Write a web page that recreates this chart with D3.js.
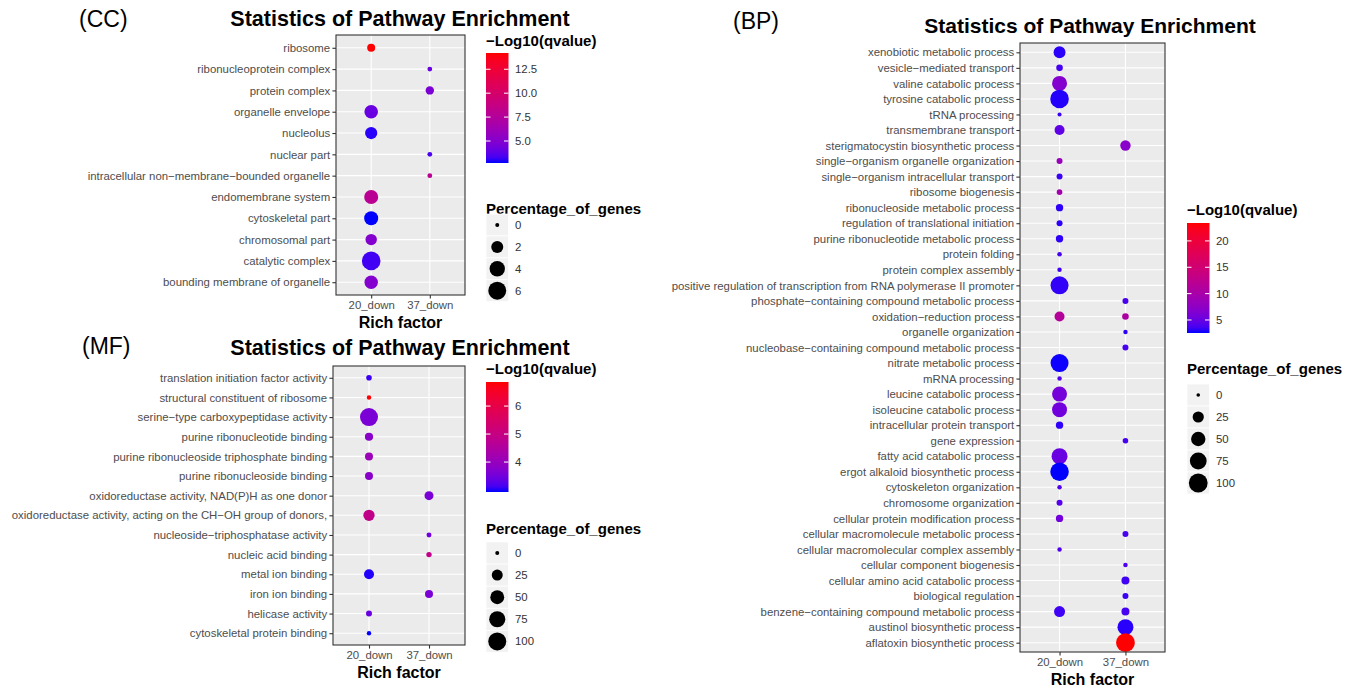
<!DOCTYPE html>
<html>
<head>
<meta charset="utf-8">
<script src="https://cdn.jsdelivr.net/npm/d3@7"></script>
<style>
body{margin:0;background:#fff}
text{font-family:"Liberation Sans",Arial,sans-serif}
</style>
</head>
<body>
<script>
var groups = ["20_down","37_down"];

// (CC) cellular component
var ccTerms = ["ribosome","ribonucleoprotein complex","protein complex","organelle envelope","nucleolus","nuclear part",
  "intracellular non\u2212membrane\u2212bounded organelle","endomembrane system","cytoskeletal part","chromosomal part",
  "catalytic complex","bounding membrane of organelle"];
var ccGroup = ["20_down","37_down","37_down","20_down","20_down","37_down","37_down","20_down","20_down","20_down","20_down","20_down"];
var ccPercent = [0.5,0.02,0.6,2.85,2.1,0.02,0.02,3.1,3.1,1.7,6.6,2.75];
var ccLogQ = [14.2,4.1,4.7,4.1,2.9,3.4,7.9,7.9,2.7,5.0,3.2,5.0];
var ccColorTicks = [5,7.5,10,12.5];
var ccColorLabels = ["5.0","7.5","10.0","12.5"];
var ccSizeTicks = [0,2,4,6];

// (MF) molecular function
var mfTerms = ["translation initiation factor activity","structural constituent of ribosome","serine\u2212type carboxypeptidase activity",
  "purine ribonucleotide binding","purine ribonucleoside triphosphate binding","purine ribonucleoside binding",
  "oxidoreductase activity, NAD(P)H as one donor","oxidoreductase activity, acting on the CH\u2212OH group of donors,",
  "nucleoside\u2212triphosphatase activity","nucleic acid binding","metal ion binding","iron ion binding","helicase activity",
  "cytoskeletal protein binding"];
var mfGroup = ["20_down","20_down","20_down","20_down","20_down","20_down","37_down","20_down","37_down","37_down","20_down","37_down","20_down","20_down"];
var mfPercent = [1.3,0.1,100,9,8.2,8.2,12.8,27,0.5,1.0,18.4,8.2,2,0.1];
var mfLogQ = [3.08,6.86,3.6,3.8,4.1,3.8,3.6,4.9,3.5,4.9,2.98,3.6,3.4,2.93];
var mfColorTicks = [4,5,6];
var mfColorLabels = ["4","5","6"];
var mfSizeTicks = [0,25,50,75,100];

// (BP) biological process
var bpTerms = ["xenobiotic metabolic process","vesicle\u2212mediated transport","valine catabolic process","tyrosine catabolic process",
  "tRNA processing","transmembrane transport","sterigmatocystin biosynthetic process","single\u2212organism organelle organization",
  "single\u2212organism intracellular transport","ribosome biogenesis","ribonucleoside metabolic process",
  "regulation of translational initiation","purine ribonucleotide metabolic process","protein folding","protein complex assembly",
  "positive regulation of transcription from RNA polymerase II promoter","phosphate\u2212containing compound metabolic process",
  "oxidation\u2212reduction process","organelle organization","nucleobase\u2212containing compound metabolic process",
  "nitrate metabolic process","mRNA processing","leucine catabolic process","isoleucine catabolic process",
  "intracellular protein transport","gene expression","fatty acid catabolic process","ergot alkaloid biosynthetic process",
  "cytoskeleton organization","chromosome organization","cellular protein modification process",
  "cellular macromolecule metabolic process","cellular macromolecular complex assembly","cellular component biogenesis",
  "cellular amino acid catabolic process","biological regulation","benzene\u2212containing compound metabolic process",
  "austinol biosynthetic process","aflatoxin biosynthetic process"];
// one entry per point (two terms have a point in both groups)
var bpPointTerm = bpTerms.slice(0,18).concat(["oxidation\u2212reduction process"]).concat(bpTerms.slice(18,37))
  .concat(["benzene\u2212containing compound metabolic process"]).concat(bpTerms.slice(37));
var bpGroup = ["20_down","20_down","20_down","20_down","20_down","20_down","37_down","20_down","20_down","20_down",
  "20_down","20_down","20_down","20_down","20_down","20_down","37_down","20_down","37_down","37_down",
  "37_down","20_down","20_down","20_down","20_down","20_down","37_down","20_down","20_down","20_down",
  "20_down","20_down","37_down","20_down","37_down","37_down","37_down","20_down","37_down","37_down","37_down"];
var bpPercent = [30,3.9,56,97,0.1,17.7,20,2.5,2.5,1.7,
  6.2,2.5,6.2,0.4,0.3,90,2.5,17.7,3.9,0.3,
  2.5,90,0.3,56,56,6.2,1.7,66,97,0.3,
  2.5,6.2,2.5,0.3,0.4,8.4,2.5,23.7,8.4,66,100];
var bpLogQ = [2.95,3.6,6.7,2.8,3.3,4.6,7.1,8.4,3.3,9.4,
  3.0,3.0,3.0,3.6,3.4,3.1,3.7,11.3,10.5,3.0,
  3.6,2.6,4.0,5.7,5.5,3.0,3.6,5.0,2.53,3.9,
  4.2,5.5,3.7,3.9,3.9,3.4,3.3,3.4,3.6,2.9,23.4];
var bpColorTicks = [5,10,15,20];
var bpColorLabels = ["5","10","15","20"];
var bpSizeTicks = [0,25,50,75,100];

var WIDTH = 1357, HEIGHT = 687;
var FONT = 11.4;

var svg = d3.select('body').append('svg')
    .attr('width',WIDTH)
    .attr('height',HEIGHT);
svg.append('rect').attr('width',WIDTH).attr('height',HEIGHT).attr('fill','#fff');

var drawPanel = function(p){
    var points = p.pointTerms.map(function(t,i){
        return {term:t, group:p.group[i], pct:p.percent[i], q:p.logq[i]};
    });

    var x = d3.scalePoint().domain(groups).range([p.left,p.right]).padding(0.6);
    var y = d3.scalePoint().domain(p.terms).range([p.top,p.bottom]).padding(0.6);
    var qExt = d3.extent(p.logq);
    var color = d3.scaleLinear().domain(qExt).range(['blue','red']).interpolate(d3.interpolateLab);
    var size = d3.scaleSqrt().domain([0,p.sizeMax]).range(p.radius);

    var g = svg.append('g');

    g.append('rect')
        .attr('x',p.left).attr('y',p.top)
        .attr('width',p.right-p.left).attr('height',p.bottom-p.top)
        .attr('fill','#EBEBEB');

    g.selectAll('line.hgrid').data(p.terms).enter().append('line')
        .attr('x1',p.left).attr('x2',p.right)
        .attr('y1',function(d){return y(d)}).attr('y2',function(d){return y(d)})
        .attr('stroke','#fff').attr('stroke-width',1.1);
    g.selectAll('line.vgrid').data(groups).enter().append('line')
        .attr('y1',p.top).attr('y2',p.bottom)
        .attr('x1',function(d){return x(d)}).attr('x2',function(d){return x(d)})
        .attr('stroke','#fff').attr('stroke-width',1.1);

    g.selectAll('circle.dot').data(points).enter().append('circle')
        .attr('cx',function(d){return x(d.group)})
        .attr('cy',function(d){return y(d.term)})
        .attr('r',function(d){return size(d.pct)})
        .attr('fill',function(d){return color(d.q)});

    g.append('rect')
        .attr('x',p.left).attr('y',p.top)
        .attr('width',p.right-p.left).attr('height',p.bottom-p.top)
        .attr('fill','none').attr('stroke','#333').attr('stroke-width',1.1);

    var ya = g.append('g').attr('transform','translate('+p.left+',0)')
        .call(d3.axisLeft(y).tickSize(3.6).tickPadding(2.2));
    var xa = g.append('g').attr('transform','translate(0,'+p.bottom+')')
        .call(d3.axisBottom(x).tickSize(3.6).tickPadding(2.5));
    [ya,xa].forEach(function(a){
        a.select('.domain').remove();
        a.selectAll('line').attr('stroke','#333').attr('stroke-width',1.1);
        a.selectAll('text').attr('fill','#4D4D4D').style('font-size',FONT+'px')
            .style('font-family','"Liberation Sans",Arial,sans-serif');
    });

    g.append('text')
        .attr('x',(p.left+p.right)/2).attr('y',p.bottom+33)
        .attr('text-anchor','middle').attr('font-weight','bold').attr('font-size',16)
        .attr('fill','#000').text('Rich factor');

    g.append('text')
        .attr('x',p.titleX).attr('y',p.titleY)
        .attr('text-anchor','middle').attr('font-weight','bold').attr('font-size',p.titleSize)
        .attr('fill','#000').text('Statistics of Pathway Enrichment');

    g.append('text')
        .attr('x',p.tagX).attr('y',p.tagY)
        .attr('font-size',23).attr('fill','#000').text(p.tag);

    // colour bar legend
    var L = p.legend;
    g.append('text').attr('x',L.x).attr('y',L.colorTitleY)
        .attr('font-weight','bold').attr('font-size',15).attr('fill','#000')
        .text('\u2212Log10(qvalue)');
    var gid = 'grad'+p.tag.replace(/\W/g,'');
    var grad = svg.append('defs').append('linearGradient').attr('id',gid)
        .attr('x1',0).attr('x2',0).attr('y1',1).attr('y2',0);
    d3.range(0,1.0001,0.05).forEach(function(t){
        grad.append('stop').attr('offset',t)
            .attr('stop-color',color(qExt[0]+t*(qExt[1]-qExt[0])));
    });
    var bw = 22.5;
    g.append('rect').attr('x',L.x).attr('y',L.barTop)
        .attr('width',bw).attr('height',L.barBottom-L.barTop)
        .attr('fill','url(#'+gid+')');
    var yb = d3.scaleLinear().domain(qExt).range([L.barBottom,L.barTop]);
    p.colorTicks.forEach(function(v,i){
        var yy = yb(v);
        g.append('line').attr('x1',L.x).attr('x2',L.x+4.5).attr('y1',yy).attr('y2',yy)
            .attr('stroke','#fff').attr('stroke-width',1);
        g.append('line').attr('x1',L.x+bw-4.5).attr('x2',L.x+bw).attr('y1',yy).attr('y2',yy)
            .attr('stroke','#fff').attr('stroke-width',1);
        g.append('text').attr('x',L.x+bw+6.5).attr('y',yy).attr('dy','0.35em')
            .attr('font-size',FONT).attr('fill','#333').text(p.colorLabels[i]);
    });

    // size legend
    g.append('text').attr('x',L.x).attr('y',L.sizeTitleY)
        .attr('font-weight','bold').attr('font-size',15).attr('fill','#000')
        .text('Percentage_of_genes');
    p.sizeTicks.forEach(function(v,i){
        var cy = L.keyTop+i*L.keyStep;
        g.append('rect').attr('x',L.x).attr('y',cy-L.keyStep/2)
            .attr('width',bw).attr('height',L.keyStep)
            .attr('fill','#F2F2F2').attr('stroke','#fff').attr('stroke-width',0.8);
        g.append('circle').attr('cx',L.x+bw/2).attr('cy',cy).attr('r',size(v)).attr('fill','#000');
        g.append('text').attr('x',L.x+bw+6.5).attr('y',cy).attr('dy','0.35em')
            .attr('font-size',FONT).attr('fill','#333').text(v);
    });
};

drawPanel({
    tag:'(CC)', tagX:79, tagY:27, titleX:400, titleY:26, titleSize:21.5,
    terms:ccTerms, pointTerms:ccTerms, group:ccGroup, percent:ccPercent, logq:ccLogQ,
    colorTicks:ccColorTicks, colorLabels:ccColorLabels, sizeTicks:ccSizeTicks,
    sizeMax:6.6, radius:[2,9.3],
    left:336, right:465, top:35, bottom:295,
    legend:{x:486, colorTitleY:46, barTop:53, barBottom:163, sizeTitleY:214, keyTop:225, keyStep:21.9}
});

drawPanel({
    tag:'(MF)', tagX:82, tagY:354, titleX:400, titleY:355, titleSize:21.5,
    terms:mfTerms, pointTerms:mfTerms, group:mfGroup, percent:mfPercent, logq:mfLogQ,
    colorTicks:mfColorTicks, colorLabels:mfColorLabels, sizeTicks:mfSizeTicks,
    sizeMax:100, radius:[2,9],
    left:333, right:465, top:366, bottom:645,
    legend:{x:486, colorTitleY:374, barTop:382, barBottom:492, sizeTitleY:534, keyTop:553, keyStep:22.1}
});

drawPanel({
    tag:'(BP)', tagX:733, tagY:29, titleX:1090, titleY:33, titleSize:21,
    terms:bpTerms, pointTerms:bpPointTerm, group:bpGroup, percent:bpPercent, logq:bpLogQ,
    colorTicks:bpColorTicks, colorLabels:bpColorLabels, sizeTicks:bpSizeTicks,
    sizeMax:100, radius:[1.8,9.4],
    left:1020, right:1165, top:43, bottom:652,
    legend:{x:1187, colorTitleY:215, barTop:223, barBottom:333, sizeTitleY:374, keyTop:395, keyStep:22}
});
</script>
</body>
</html>
